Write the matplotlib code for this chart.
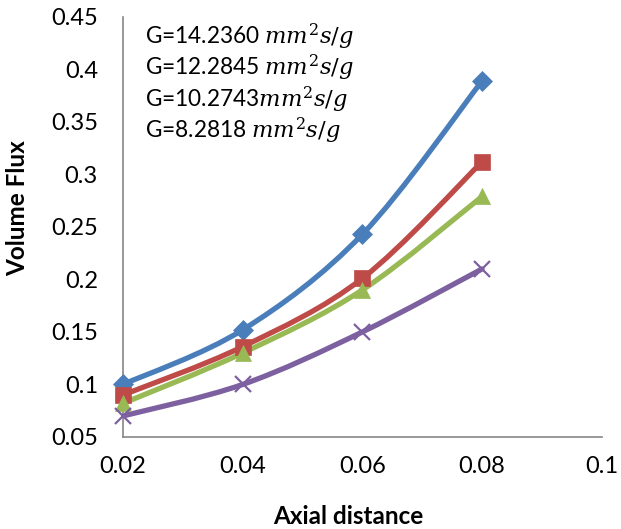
import matplotlib
matplotlib.use("Agg")
import matplotlib.pyplot as plt
from matplotlib.path import Path
from matplotlib.patches import PathPatch
import numpy as np

plt.rcParams["font.family"] = ["Lato", "DejaVu Sans"]
plt.rcParams["mathtext.fontset"] = "custom"
plt.rcParams["mathtext.it"] = "DejaVu Serif:italic"
plt.rcParams["mathtext.rm"] = "DejaVu Serif"

# data
axial = [0.02, 0.04, 0.06, 0.08]
flux_g14 = [0.100, 0.152, 0.243, 0.389]
flux_g12 = [0.090, 0.136, 0.201, 0.312]
flux_g10 = [0.082, 0.130, 0.190, 0.279]
flux_g8 = [0.070, 0.100, 0.150, 0.210]

labels = [
    r"G=14.2360 $mm^2s/g$",
    r"G=12.2845 $mm^2s/g$",
    r"G=10.2743$mm^2s/g$",
    r"G=8.2818 $mm^2s/g$",
]
colors = ["#4A7EBB", "#BE4B48", "#98B954", "#7D60A0"]
markers = ["D", "s", "^", "x"]
msizes = [10, 11, 12, 12]

xticks = [0.02, 0.04, 0.06, 0.08, 0.1]
yticks = [0.05, 0.1, 0.15, 0.2, 0.25, 0.3, 0.35, 0.4, 0.45]


def smooth_path(xs, ys):
    """Excel-like smoothed line as cubic bezier segments."""
    pts = np.column_stack([xs, ys])
    verts = [pts[0]]
    codes = [Path.MOVETO]
    n = len(pts)
    for i in range(n - 1):
        p0 = pts[max(i - 1, 0)]
        p1 = pts[i]
        p2 = pts[i + 1]
        p3 = pts[min(i + 2, n - 1)]
        c1 = p1 + (p2 - p0) / 6.0
        c2 = p2 - (p3 - p1) / 6.0
        verts += [c1, c2, p2]
        codes += [Path.CURVE4] * 3
    return Path(verts, codes)


fig = plt.figure(figsize=(6.21, 5.29), dpi=100)
ax = fig.add_axes([0.198, 0.174, 0.771, 0.794])

series = [flux_g14, flux_g12, flux_g10, flux_g8]
for ys, c, m, ms in zip(series, colors, markers, msizes):
    patch = PathPatch(smooth_path(axial, ys), facecolor="none", edgecolor=c,
                      lw=3.8, capstyle="round", joinstyle="round")
    ax.add_patch(patch)
    ax.plot(axial, ys, ls="none", marker=m, ms=ms, color=c,
            mew=1.6 if m == "x" else 0.5, clip_on=False, zorder=3)

ax.set_xlim(0.02, 0.1)
ax.set_ylim(0.05, 0.45)
ax.set_xticks(xticks)
ax.set_xticklabels(["0.02", "0.04", "0.06", "0.08", "0.1"])
ax.set_yticks(yticks)
ax.set_yticklabels(["0.05", "0.1", "0.15", "0.2", "0.25", "0.3", "0.35", "0.4", "0.45"])
ax.tick_params(axis="x", length=0, pad=14, labelsize=17)
ax.tick_params(axis="y", length=0, pad=18, labelsize=17)

for s in ["top", "right"]:
    ax.spines[s].set_visible(False)
for s in ["left", "bottom"]:
    ax.spines[s].set_color("#868686")
    ax.spines[s].set_linewidth(1.2)

ax.set_xlabel("Axial distance", fontsize=17.5, fontweight="bold")
ax.set_ylabel("Volume Flux", fontsize=17.5, fontweight="bold")
ax.xaxis.set_label_coords(0.471, -0.162)
ax.yaxis.set_label_coords(-0.196, 0.545)

for i, lab in enumerate(labels):
    fig.text(145 / 621, 1 - (37 + 31.3 * i) / 529, lab, fontsize=16.3,
             va="center", ha="left")

fig.savefig("out.png", dpi=100)
